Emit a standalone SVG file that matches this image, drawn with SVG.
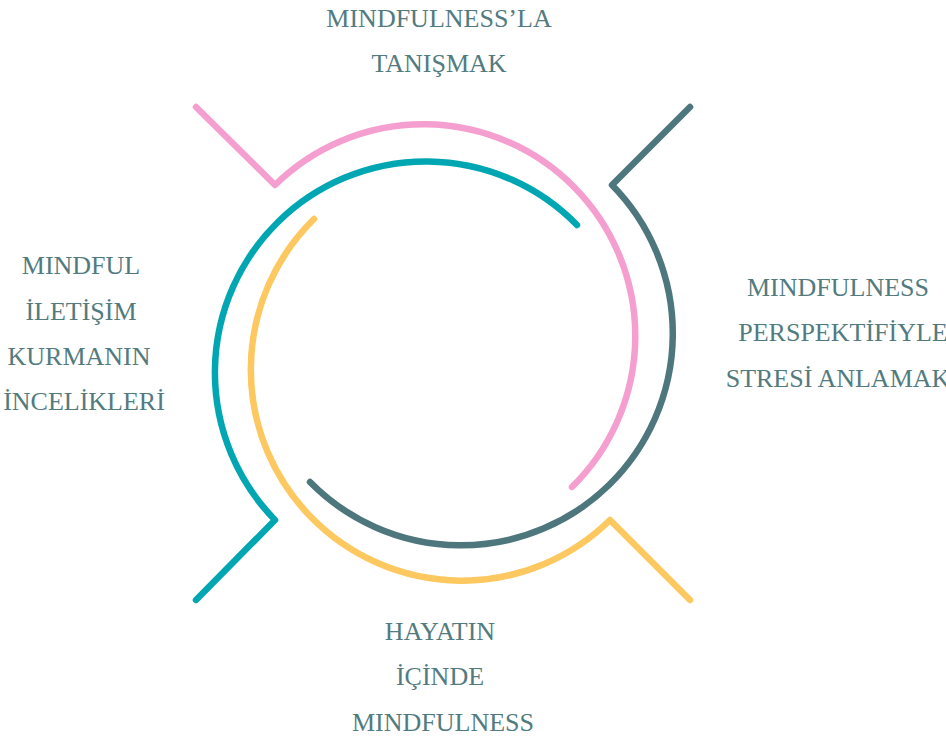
<svg xmlns="http://www.w3.org/2000/svg" width="946" height="742" viewBox="0 0 946 742">
<style>
.arc{fill:none;stroke-width:6.5;stroke-linecap:round;stroke-linejoin:round}
.lbl{font-family:"Liberation Serif",serif;font-size:26px;fill:#527b80;text-anchor:middle}
</style>
<rect width="946" height="742" fill="#ffffff"/>
<g id="connectors">
<path id="pink" class="arc" stroke="#f49fcf" d="M196,107 L275,185 A211,211 0 1 1 572,487"/>
<path id="slate" class="arc" stroke="#4e777d" d="M690,107 L612,185 A211,211 0 1 1 310,482"/>
<path id="teal" class="arc" stroke="#00a7b2" d="M196,600 L275,520 A211,211 0 1 1 577,225"/>
<path id="yellow" class="arc" stroke="#fdc85f" d="M690,600 L610,520 A211,211 0 1 1 314,219"/>
</g>
<g id="node-top">
<text class="lbl" x="439" y="27">MINDFULNESS’LA</text>
<text class="lbl" x="439" y="72">TANIŞMAK</text>
</g>
<g id="node-left">
<text class="lbl" x="81" y="274">MINDFUL</text>
<text class="lbl" x="81" y="320">İLETİŞİM</text>
<text class="lbl" x="79" y="365">KURMANIN</text>
<text class="lbl" x="84" y="410">İNCELİKLERİ</text>
</g>
<g id="node-right">
<text class="lbl" x="838" y="296">MINDFULNESS</text>
<text class="lbl" x="843" y="341">PERSPEKTİFİYLE</text>
<text class="lbl" x="838" y="387">STRESİ ANLAMAK</text>
</g>
<g id="node-bottom">
<text class="lbl" x="440" y="640">HAYATIN</text>
<text class="lbl" x="440" y="685">İÇİNDE</text>
<text class="lbl" x="443" y="731">MINDFULNESS</text>
</g>
</svg>
